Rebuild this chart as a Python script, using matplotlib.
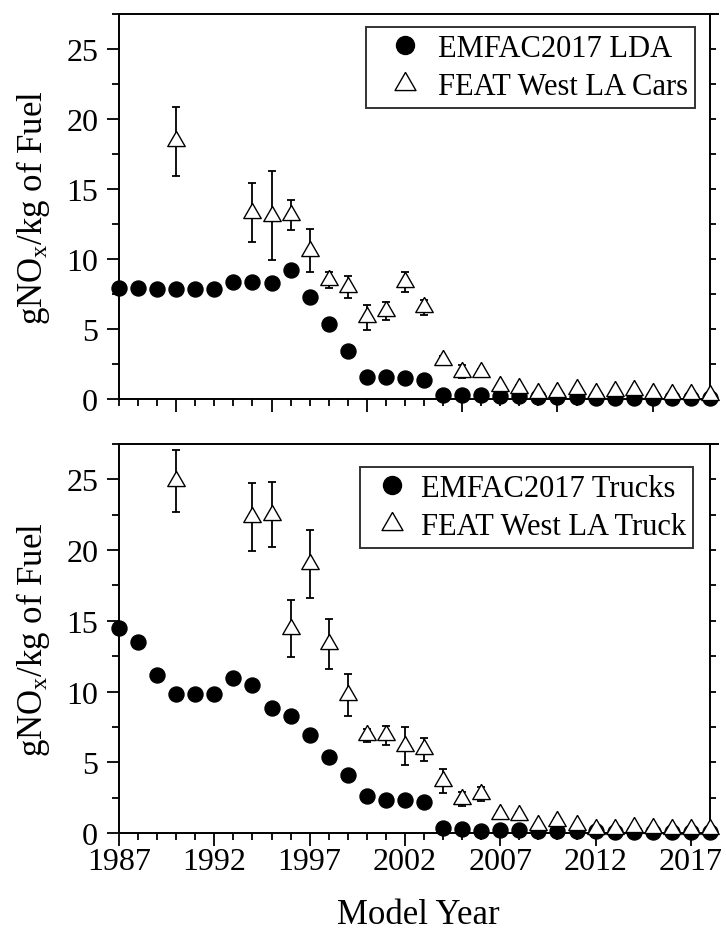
import numpy as np
import matplotlib
matplotlib.use("Agg")
import matplotlib.pyplot as plt
from matplotlib.ticker import MultipleLocator

plt.rcParams['font.family'] = ['Liberation Serif', 'DejaVu Serif']
plt.rcParams['mathtext.fontset'] = 'custom'
plt.rcParams['mathtext.rm'] = 'Liberation Serif'
plt.rcParams['mathtext.it'] = 'Liberation Serif'

years = np.arange(1987, 2019)

# top panel: cars
emfac_lda = [7.9, 7.9, 7.88, 7.88, 7.88, 7.88, 8.38, 8.33, 8.3, 9.24, 7.26, 5.36,
             3.45, 1.6, 1.55, 1.5, 1.35, 0.31, 0.31, 0.3, 0.22, 0.18, 0.15, 0.13,
             0.12, 0.1, 0.09, 0.08, 0.07, 0.06, 0.05, 0.05]
feat_years_cars = [1990, 1994, 1995, 1996, 1997, 1998, 1999, 2000, 2001, 2002, 2003,
                   2004, 2005, 2006, 2007, 2008, 2009, 2010, 2011, 2012, 2013, 2014,
                   2015, 2016, 2017, 2018]
feat_cars = [18.4, 13.3, 13.1, 13.15, 10.6, 8.5, 8.0, 5.85, 6.3, 8.35, 6.55,
             2.8, 1.95, 1.95, 0.9, 0.8, 0.43, 0.52, 0.7, 0.43, 0.6, 0.67,
             0.4, 0.38, 0.38, 0.31]
feat_cars_err = [2.45, 2.1, 3.2, 1.05, 1.55, 0.6, 0.8, 0.9, 0.65, 0.7, 0.55,
                 0.3, 0.45, 0.2, 0.2, 0.2, 0.1, 0.1, 0.15, 0.1, 0.1, 0.1,
                 0.08, 0.08, 0.08, 0.08]

# bottom panel: trucks
emfac_trucks = [14.5, 13.5, 11.2, 9.85, 9.85, 9.85, 10.95, 10.45, 8.85, 8.3, 6.9,
                5.38, 4.13, 2.65, 2.3, 2.3, 2.2, 0.35, 0.3, 0.14, 0.2, 0.2, 0.15,
                0.15, 0.13, 0.12, 0.1, 0.09, 0.08, 0.07, 0.06, 0.05]
feat_years_trucks = feat_years_cars
feat_trucks = [24.9, 22.35, 22.5, 14.45, 19.0, 13.35, 9.75, 6.9, 6.9, 6.15, 5.92,
               3.7, 2.38, 2.75, 1.32, 1.3, 0.54, 0.85, 0.54, 0.3, 0.3, 0.42,
               0.35, 0.3, 0.3, 0.25]
feat_trucks_err = [2.2, 2.4, 2.3, 2.0, 2.4, 1.75, 1.5, 0.45, 0.65, 1.35, 0.8,
                   0.85, 0.5, 0.5, 0.2, 0.2, 0.1, 0.2, 0.1, 0.08, 0.08, 0.1,
                   0.08, 0.08, 0.08, 0.08]

panels = [
    (emfac_lda, feat_years_cars, feat_cars, feat_cars_err,
     'EMFAC2017 LDA', 'FEAT West LA Cars'),
    (emfac_trucks, feat_years_trucks, feat_trucks, feat_trucks_err,
     'EMFAC2017 Trucks', 'FEAT West LA Truck'),
]

W, H = 726, 937
fig = plt.figure(figsize=(W / 100, H / 100), dpi=100)
left, right = 119 / W, 718 / W
boxes = [(400, 15), (834, 445)]
xmax = 2018.42

tri = [(0, 0.577), (-0.5, -0.289), (0.5, -0.289), (0, 0.577)]

for i, (emf, fy, fv, fe, lab1, lab2) in enumerate(panels):
    yb, yt = boxes[i]
    ax = fig.add_axes([left, 1 - yb / H, right - left, (yb - yt) / H])
    ax.plot(years, emf, 'o', color='black', ms=10.8, clip_on=False, zorder=3,
            label=lab1)
    ax.errorbar(fy, fv, yerr=fe, fmt='none', ecolor='black', elinewidth=1.3,
                capsize=3, capthick=1.3, clip_on=False, zorder=4)
    ax.plot(fy, fv, linestyle='none', marker=tri, ms=14.5, mfc='white',
            mec='black', mew=1.0, clip_on=False, zorder=5, label=lab2)

    ax.set_xlim(1987, xmax)
    ax.set_ylim(0, 27.5)
    ax.xaxis.set_major_locator(MultipleLocator(5))
    ax.xaxis.set_minor_locator(MultipleLocator(1))
    ax.yaxis.set_major_locator(MultipleLocator(5))
    ax.yaxis.set_minor_locator(MultipleLocator(2.5))
    ax.tick_params(which='both', direction='out', width=1.3, colors='black',
                   labelsize=23, top=False, right=False)
    ax.tick_params(which='major', length=9)
    ax.tick_params(axis='y', which='major', pad=6)
    ax.tick_params(axis='x', which='major', pad=1)
    ax.tick_params(which='minor', length=5)
    for s in ax.spines.values():
        s.set_linewidth(1.4)
    ax.spines['right'].set_visible(False)

    # right-hand axis sits at 2018
    sec = ax.secondary_yaxis((2018 - 1987) / (xmax - 1987))
    sec.yaxis.set_major_locator(MultipleLocator(2.5))
    sec.tick_params(direction='out', length=4, width=1.3, labelright=False)
    sec.spines['right'].set_linewidth(1.4)

    ax.set_ylabel('gNO$_x$/kg of Fuel', fontsize=25, labelpad=10)
    if i == 0:
        ax.set_xticklabels([])
        anchor = (695 / W, 1 - 28 / H)
        hl, htp = 2.1, 0.03
    else:
        ax.set_xticks([1987, 1992, 1997, 2002, 2007, 2012, 2017])
        ax.set_xlabel('Model Year', fontsize=25, labelpad=16)
        anchor = (693 / W, 1 - 468 / H)
        hl, htp = 1.63, 0.13

    leg = ax.legend(loc='upper right', bbox_to_anchor=anchor,
                    bbox_transform=fig.transFigure, fontsize=22, frameon=True,
                    fancybox=False, edgecolor='black', borderaxespad=0,
                    handletextpad=htp, borderpad=0.23, labelspacing=0.3,
                    handlelength=hl, markerscale=1.2)
    leg.get_frame().set_linewidth(1.4)

fig.savefig('out.png', dpi=100)
